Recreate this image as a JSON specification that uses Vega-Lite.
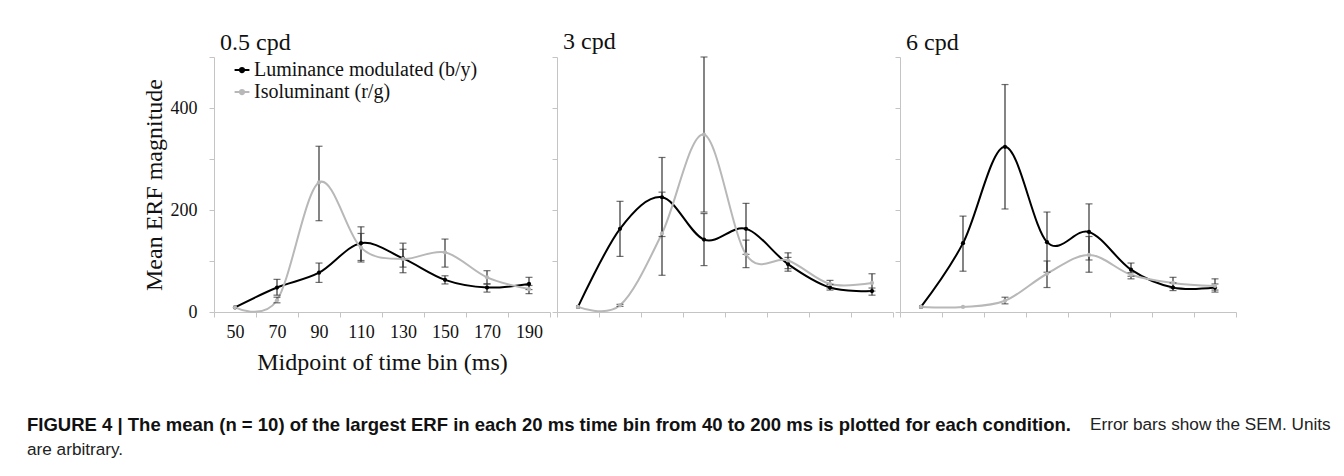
{
  "$schema": "https://vega.github.io/schema/vega-lite/v6.json",
  "padding": {"left": 27, "top": 30, "right": 0, "bottom": 0},
  "background": "white",
  "config": {
    "view": {"stroke": null},
    "axis": {"domainColor": "#c4c4c4", "tickColor": "#c4c4c4", "tickSize": 5, "grid": false, "labelFont": "Liberation Serif", "labelFontSize": 18, "labelColor": "#111", "titleFont": "Liberation Serif", "titleFontSize": 24, "titleFontWeight": "normal", "titleColor": "#111"},
    "title": {"font": "Liberation Serif", "fontSize": 24, "fontWeight": "normal", "color": "#111"}
  },
  "datasets": {
    "d": [
      {"p": "0.5 cpd", "s": "Luminance modulated (b/y)", "t": 50, "v": 9, "lo": null, "hi": null},
      {"p": "0.5 cpd", "s": "Luminance modulated (b/y)", "t": 70, "v": 48, "lo": 33, "hi": 64},
      {"p": "0.5 cpd", "s": "Luminance modulated (b/y)", "t": 90, "v": 77, "lo": 58, "hi": 96},
      {"p": "0.5 cpd", "s": "Luminance modulated (b/y)", "t": 110, "v": 135, "lo": 101, "hi": 167},
      {"p": "0.5 cpd", "s": "Luminance modulated (b/y)", "t": 130, "v": 105, "lo": 88, "hi": 123},
      {"p": "0.5 cpd", "s": "Luminance modulated (b/y)", "t": 150, "v": 63, "lo": 55, "hi": 71},
      {"p": "0.5 cpd", "s": "Luminance modulated (b/y)", "t": 170, "v": 48, "lo": 39, "hi": 55},
      {"p": "0.5 cpd", "s": "Luminance modulated (b/y)", "t": 190, "v": 55, "lo": 44, "hi": 68},
      {"p": "0.5 cpd", "s": "Isoluminant (r/g)", "t": 50, "v": 9, "lo": null, "hi": null},
      {"p": "0.5 cpd", "s": "Isoluminant (r/g)", "t": 70, "v": 23, "lo": 18, "hi": 29},
      {"p": "0.5 cpd", "s": "Isoluminant (r/g)", "t": 90, "v": 254, "lo": 179, "hi": 325},
      {"p": "0.5 cpd", "s": "Isoluminant (r/g)", "t": 110, "v": 126, "lo": 98, "hi": 154},
      {"p": "0.5 cpd", "s": "Isoluminant (r/g)", "t": 130, "v": 104, "lo": 77, "hi": 135},
      {"p": "0.5 cpd", "s": "Isoluminant (r/g)", "t": 150, "v": 117, "lo": 88, "hi": 143},
      {"p": "0.5 cpd", "s": "Isoluminant (r/g)", "t": 170, "v": 68, "lo": 55, "hi": 81},
      {"p": "0.5 cpd", "s": "Isoluminant (r/g)", "t": 190, "v": 45, "lo": 36, "hi": 52},
      {"p": "3 cpd", "s": "Luminance modulated (b/y)", "t": 50, "v": 10, "lo": null, "hi": null},
      {"p": "3 cpd", "s": "Luminance modulated (b/y)", "t": 70, "v": 163, "lo": 109, "hi": 217},
      {"p": "3 cpd", "s": "Luminance modulated (b/y)", "t": 90, "v": 225, "lo": 148, "hi": 303},
      {"p": "3 cpd", "s": "Luminance modulated (b/y)", "t": 110, "v": 142, "lo": 91, "hi": 193},
      {"p": "3 cpd", "s": "Luminance modulated (b/y)", "t": 130, "v": 163, "lo": 113, "hi": 213},
      {"p": "3 cpd", "s": "Luminance modulated (b/y)", "t": 150, "v": 94, "lo": 80, "hi": 107},
      {"p": "3 cpd", "s": "Luminance modulated (b/y)", "t": 170, "v": 48, "lo": 43, "hi": 54},
      {"p": "3 cpd", "s": "Luminance modulated (b/y)", "t": 190, "v": 41, "lo": 33, "hi": 47},
      {"p": "3 cpd", "s": "Isoluminant (r/g)", "t": 50, "v": 10, "lo": null, "hi": null},
      {"p": "3 cpd", "s": "Isoluminant (r/g)", "t": 70, "v": 13, "lo": 11, "hi": 15},
      {"p": "3 cpd", "s": "Isoluminant (r/g)", "t": 90, "v": 154, "lo": 72, "hi": 235},
      {"p": "3 cpd", "s": "Isoluminant (r/g)", "t": 110, "v": 348, "lo": 196, "hi": 500},
      {"p": "3 cpd", "s": "Isoluminant (r/g)", "t": 130, "v": 113, "lo": 87, "hi": 141},
      {"p": "3 cpd", "s": "Isoluminant (r/g)", "t": 150, "v": 101, "lo": 85, "hi": 116},
      {"p": "3 cpd", "s": "Isoluminant (r/g)", "t": 170, "v": 55, "lo": 47, "hi": 62},
      {"p": "3 cpd", "s": "Isoluminant (r/g)", "t": 190, "v": 57, "lo": 41, "hi": 75},
      {"p": "6 cpd", "s": "Luminance modulated (b/y)", "t": 50, "v": 10, "lo": null, "hi": null},
      {"p": "6 cpd", "s": "Luminance modulated (b/y)", "t": 70, "v": 135, "lo": 80, "hi": 188},
      {"p": "6 cpd", "s": "Luminance modulated (b/y)", "t": 90, "v": 324, "lo": 202, "hi": 446},
      {"p": "6 cpd", "s": "Luminance modulated (b/y)", "t": 110, "v": 137, "lo": 78, "hi": 196},
      {"p": "6 cpd", "s": "Luminance modulated (b/y)", "t": 130, "v": 157, "lo": 102, "hi": 212},
      {"p": "6 cpd", "s": "Luminance modulated (b/y)", "t": 150, "v": 83, "lo": 70, "hi": 96},
      {"p": "6 cpd", "s": "Luminance modulated (b/y)", "t": 170, "v": 48, "lo": 42, "hi": 57},
      {"p": "6 cpd", "s": "Luminance modulated (b/y)", "t": 190, "v": 48, "lo": 39, "hi": 55},
      {"p": "6 cpd", "s": "Isoluminant (r/g)", "t": 50, "v": 10, "lo": null, "hi": null},
      {"p": "6 cpd", "s": "Isoluminant (r/g)", "t": 70, "v": 10, "lo": null, "hi": null},
      {"p": "6 cpd", "s": "Isoluminant (r/g)", "t": 90, "v": 22, "lo": 16, "hi": 29},
      {"p": "6 cpd", "s": "Isoluminant (r/g)", "t": 110, "v": 75, "lo": 48, "hi": 100},
      {"p": "6 cpd", "s": "Isoluminant (r/g)", "t": 130, "v": 112, "lo": 78, "hi": 148},
      {"p": "6 cpd", "s": "Isoluminant (r/g)", "t": 150, "v": 73, "lo": 65, "hi": 77},
      {"p": "6 cpd", "s": "Isoluminant (r/g)", "t": 170, "v": 57, "lo": 47, "hi": 68},
      {"p": "6 cpd", "s": "Isoluminant (r/g)", "t": 190, "v": 51, "lo": 43, "hi": 65}
    ]
  },
  "title": {"text": "Error bars show the SEM. Units", "orient": "bottom", "anchor": "start", "dx": 1063, "offset": -42, "font": "Liberation Sans", "fontSize": 17.2, "fontWeight": "normal", "color": "#222"},
  "vconcat": [
    {
      "title": {"text": "FIGURE 4 | The mean (n = 10) of the largest ERF in each 20 ms time bin from 40 to 200 ms is plotted for each condition.", "subtitle": "are arbitrary.", "orient": "bottom", "anchor": "start", "dx": -115, "offset": 42, "font": "Liberation Sans", "fontSize": 18.5, "fontWeight": "bold", "color": "#111", "subtitleFont": "Liberation Sans", "subtitleFontSize": 17.2, "subtitleFontWeight": "normal", "subtitleColor": "#222", "subtitlePadding": 6},
      "spacing": 0,
      "resolve": {"scale": {"color": "independent"}},
      "hconcat": [
        {
          "width": 336, "height": 255,
          "title": {"text": "0.5 cpd", "anchor": "start", "frame": "group", "dx": 6, "offset": 2},
          "data": {"name": "d"},
          "transform": [{"filter": "datum.p == '0.5 cpd'"}],
          "encoding": {"x": {"field": "t", "type": "ordinal", "scale": {"type": "band", "paddingInner": 0, "paddingOuter": 0}, "axis": {"title": "Midpoint of time bin (ms)", "labelAngle": 0, "tickBand": "extent", "labelPadding": 6, "titlePadding": 9}}},
          "layer": [
            {"mark": {"type": "line", "interpolate": "cardinal", "strokeWidth": 2},
             "encoding": {"y": {"field": "v", "type": "quantitative", "scale": {"domain": [0, 500], "nice": false}, "axis": {"title": "Mean ERF magnitude", "values": [0, 100, 200, 300, 400, 500], "labelExpr": "datum.value % 200 == 0 ? datum.label : ''", "labelPadding": 12, "titlePadding": 4}},
              "color": {"field": "s", "type": "nominal", "scale": {"domain": ["Luminance modulated (b/y)", "Isoluminant (r/g)"], "range": ["#000000", "#b8b8b8"]},
                "legend": {"orient": "none", "legendX": 18, "legendY": 3, "title": null, "labelFont": "Liberation Serif", "labelFontSize": 20, "labelColor": "#111", "labelLimit": 0, "symbolType": "M-1,0H1M-0.3,0A0.3,0.3,0,1,0,0.3,0A0.3,0.3,0,1,0,-0.3,0Z", "symbolSize": 220, "symbolStrokeWidth": 1.8, "rowPadding": 2, "labelOffset": 2}}}},
            {"mark": {"type": "errorbar", "color": "#333", "thickness": 1.2, "ticks": {"size": 7, "thickness": 1.2}},
             "encoding": {"y": {"field": "lo", "type": "quantitative", "title": "Mean ERF magnitude"}, "y2": {"field": "hi"}}},
            {"mark": {"type": "point", "filled": true, "size": 18, "opacity": 1},
             "encoding": {"y": {"field": "v", "type": "quantitative"}, "color": {"field": "s", "type": "nominal"}}}
          ]
        },
        {
          "width": 336, "height": 255,
          "title": {"text": "3 cpd", "anchor": "start", "frame": "group", "dx": 6, "offset": 2},
          "data": {"name": "d"},
          "transform": [{"filter": "datum.p == '3 cpd'"}],
          "encoding": {"x": {"field": "t", "type": "ordinal", "scale": {"type": "band", "paddingInner": 0, "paddingOuter": 0}, "axis": {"title": null, "labels": false, "tickBand": "extent"}}},
          "layer": [
            {"mark": {"type": "line", "interpolate": "cardinal", "strokeWidth": 2},
             "encoding": {"y": {"field": "v", "type": "quantitative", "scale": {"domain": [0, 500], "nice": false}, "axis": {"title": null, "labels": false, "values": [0, 100, 200, 300, 400, 500]}},
              "color": {"field": "s", "type": "nominal", "scale": {"domain": ["Luminance modulated (b/y)", "Isoluminant (r/g)"], "range": ["#000000", "#b8b8b8"]}, "legend": null}}},
            {"mark": {"type": "errorbar", "color": "#333", "thickness": 1.2, "ticks": {"size": 7, "thickness": 1.2}},
             "encoding": {"y": {"field": "lo", "type": "quantitative", "title": null}, "y2": {"field": "hi"}}},
            {"mark": {"type": "point", "filled": true, "size": 18, "opacity": 1},
             "encoding": {"y": {"field": "v", "type": "quantitative"}, "color": {"field": "s", "type": "nominal", "legend": null}}}
          ]
        },
        {
          "width": 336, "height": 255,
          "title": {"text": "6 cpd", "anchor": "start", "frame": "group", "dx": 6, "offset": 2},
          "data": {"name": "d"},
          "transform": [{"filter": "datum.p == '6 cpd'"}],
          "encoding": {"x": {"field": "t", "type": "ordinal", "scale": {"type": "band", "paddingInner": 0, "paddingOuter": 0}, "axis": {"title": null, "labels": false, "tickBand": "extent"}}},
          "layer": [
            {"mark": {"type": "line", "interpolate": "cardinal", "strokeWidth": 2},
             "encoding": {"y": {"field": "v", "type": "quantitative", "scale": {"domain": [0, 500], "nice": false}, "axis": {"title": null, "labels": false, "values": [0, 100, 200, 300, 400, 500]}},
              "color": {"field": "s", "type": "nominal", "scale": {"domain": ["Luminance modulated (b/y)", "Isoluminant (r/g)"], "range": ["#000000", "#b8b8b8"]}, "legend": null}}},
            {"mark": {"type": "errorbar", "color": "#333", "thickness": 1.2, "ticks": {"size": 7, "thickness": 1.2}},
             "encoding": {"y": {"field": "lo", "type": "quantitative", "title": null}, "y2": {"field": "hi"}}},
            {"mark": {"type": "point", "filled": true, "size": 18, "opacity": 1},
             "encoding": {"y": {"field": "v", "type": "quantitative"}, "color": {"field": "s", "type": "nominal", "legend": null}}}
          ]
        }
      ]
    }
  ]
}
